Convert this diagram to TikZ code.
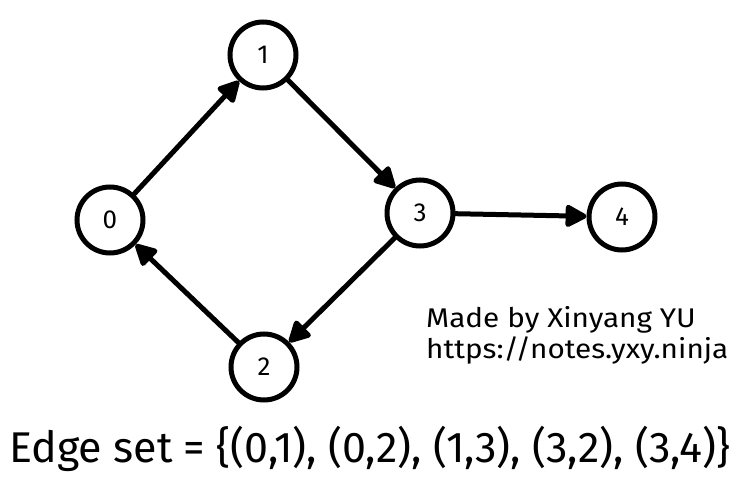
\documentclass[tikz,border=0pt]{standalone}
\usepackage{fontspec}
\setmainfont{Fira Sans}
\usetikzlibrary{arrows.meta}
\begin{document}
\begin{tikzpicture}[x=1pt,y=-1pt,
  vertex/.style={circle,draw,line width=5pt,minimum size=66pt,inner sep=0pt,font=\fontsize{26}{26}\selectfont},
  edge/.style={line width=5pt,line cap=round,-{Triangle[length=24pt,width=24pt,round]}},
  note/.style={anchor=base west,inner sep=0pt,font=\fontsize{27}{27}\selectfont}]
\useasboundingbox (0,0) rectangle (744,484);
\node[vertex] (n0) at (110,220) {0};
\node[vertex] (n1) at (263,55) {1};
\node[vertex] (n3) at (420,213) {3};
\node[vertex] (n4) at (622,217) {4};
\node[vertex] (n2) at (264,367) {2};
\draw[edge] (n0) -- (n1);
\draw[edge] (n1) -- (n3);
\draw[edge] (n3) -- (n4);
\draw[edge] (n3) -- (n2);
\draw[edge] (n2) -- (n0);
\node[note] (made) at (426,327) {\scalebox{1.1}[1]{Made by Xinyang YU}};
\node[note] (url) at (426,358) {\scalebox{1.1}[1]{https://notes.yxy.ninja}};
\node[anchor=base west,inner sep=0pt,font=\fontsize{43}{43}\selectfont] (eset) at (9,462) {Edge set = \{(0,1), (0,2), (1,3), (3,2), (3,4)\}};
\end{tikzpicture}
\end{document}
